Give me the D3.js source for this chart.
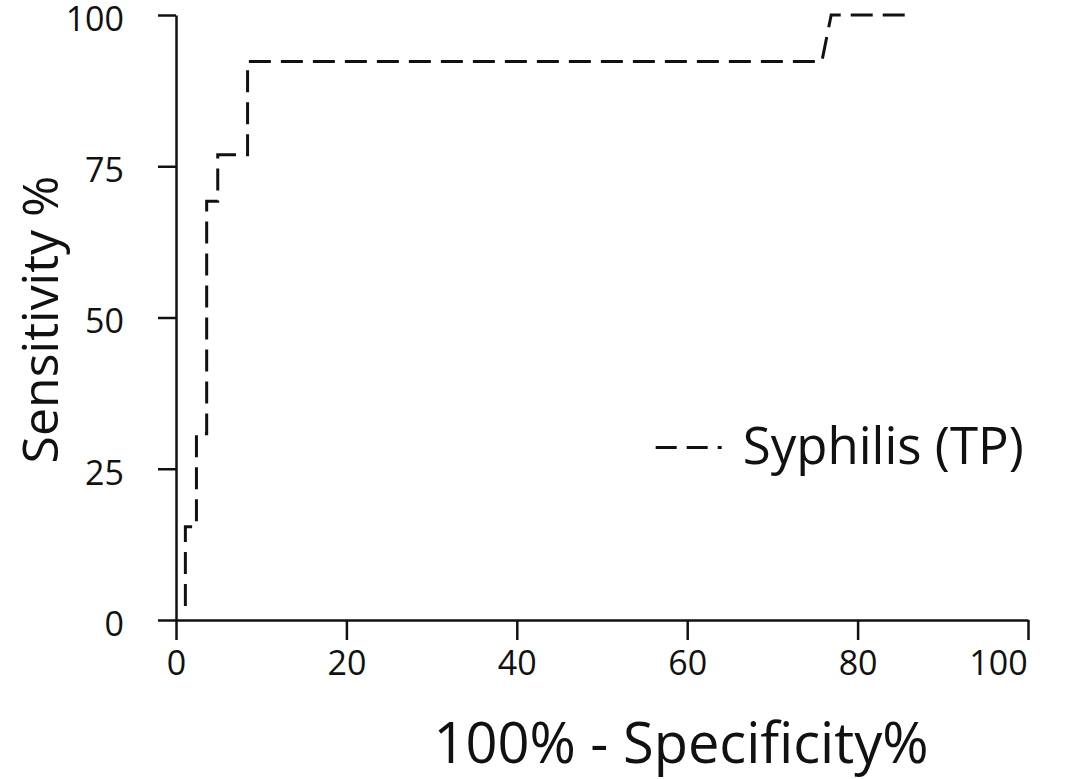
<!DOCTYPE html>
<html>
<head>
<meta charset="utf-8">
<script src="https://cdn.jsdelivr.net/npm/d3@7"></script>
<style>
  body { margin: 0; background: #fff; }
  text { font-family: "Open Sans", sans-serif; fill: #111; }
</style>
</head>
<body>
<div id="roc-chart"></div>
<script>
// ROC curve (x = 100% - specificity, y = sensitivity)
let fpr  = [1.1, 1.1, 2.4, 2.4, 3.6, 3.6, 4.9, 4.9, 8.4, 8.4, 75.8, 76.9, 85.7];
let sens = [2.3, 15.4, 15.4, 30.8, 30.8, 69.2, 69.2, 76.9, 76.9, 92.3, 92.3, 100, 100];
let xTicks = [0, 20, 40, 60, 80, 100];
let yTicks = [0, 25, 50, 75, 100];
let seriesName = "Syphilis (TP)";
let xTitle = "100% - Specificity%";
let yTitle = "Sensitivity %";

let margin = {top: 15, right: 39, bottom: 159, left: 176},
    width = 1067 - margin.left - margin.right,
    height = 779 - margin.top - margin.bottom;

let svg = d3.select("#roc-chart")
    .append("svg")
    .attr("width", width + margin.left + margin.right)
    .attr("height", height + margin.top + margin.bottom)
    .append("g")
    .attr("transform", "translate(" + margin.left + "," + margin.top + ")");

let x = d3.scaleLinear().domain([0, 100]).range([0, width]);
let y = d3.scaleLinear().domain([0, 100]).range([height, 0]);

let xAxis = svg.append("g")
    .attr("transform", "translate(0," + height + ")")
    .call(d3.axisBottom(x).tickValues(xTicks).tickSize(20).tickSizeOuter(0).tickPadding(11));

let yAxis = svg.append("g")
    .call(d3.axisLeft(y).tickValues(yTicks).tickSize(18).tickSizeOuter(0).tickPadding(34));

[xAxis, yAxis].forEach(function (g) {
    g.selectAll("path, line").attr("stroke", "#111").attr("stroke-width", 2.5);
    g.selectAll("text").attr("font-size", 34).attr("fill", "#111")
        .style("font-family", "'Open Sans', sans-serif");
});
yAxis.selectAll("text").attr("dy", "0.45em");
// the last x label sits a bit left of its tick in the original
xAxis.selectAll(".tick text").filter(function (d) { return d === 100; }).attr("dx", -30);

let points = fpr.map(function (d, i) { return [d, sens[i]]; });

svg.append("path")
    .datum(points)
    .attr("fill", "none")
    .attr("stroke", "#111")
    .attr("stroke-width", 3)
    .attr("stroke-dasharray", "22,10")
    .attr("d", d3.line()
        .x(function (d) { return x(d[0]); })
        .y(function (d) { return y(d[1]); }));

// axis titles
svg.append("text")
    .attr("x", 505)
    .attr("y", height + 143)
    .attr("text-anchor", "middle")
    .attr("font-size", 56)
    .text(xTitle);

svg.append("text")
    .attr("transform", "translate(" + (-118) + "," + (height / 2 + 2) + ") rotate(-90)")
    .attr("text-anchor", "middle")
    .attr("font-size", 50)
    .text(yTitle);

// legend
let legend = svg.append("g").attr("transform", "translate(" + x(56.3) + "," + y(28.5) + ")");
legend.append("line")
    .attr("x1", 0).attr("x2", 66).attr("y1", 0).attr("y2", 0)
    .attr("stroke", "#111").attr("stroke-width", 3)
    .attr("stroke-dasharray", "21,10");
legend.append("text")
    .attr("x", 87)
    .attr("y", 16)
    .attr("font-size", 51)
    .text(seriesName);
</script>
</body>
</html>
